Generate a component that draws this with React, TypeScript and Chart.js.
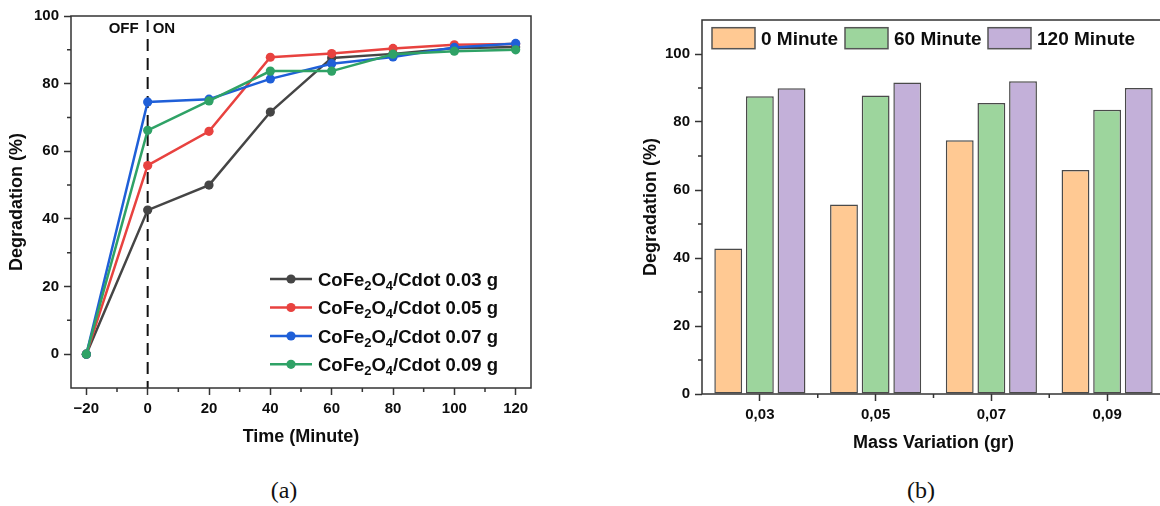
import React, { useEffect, useRef } from "react";
import { Chart, registerables } from "chart.js";

Chart.register(...registerables);

// ---------- Data: panel (a) ----------
const timeMinutes = [-20, 0, 20, 40, 60, 80, 100, 120];
const degradation003 = [0, 42.6, 50.0, 71.6, 87.6, 88.8, 90.5, 90.8];
const degradation005 = [0, 55.8, 65.9, 87.8, 88.9, 90.4, 91.5, 91.7];
const degradation007 = [0, 74.6, 75.4, 81.4, 85.9, 87.9, 90.7, 91.9];
const degradation009 = [0, 66.2, 74.9, 83.7, 83.7, 88.7, 89.6, 90.0];
const massLabels = ["0.03", "0.05", "0.07", "0.09"];
const lineColors = ["#454545", "#e8423f", "#1f5fd8", "#2fa266"];
const timeTicks = [-20, 0, 20, 40, 60, 80, 100, 120];
const timeMinorTicks = [-10, 10, 30, 50, 70, 90, 110];
const degTicksA = [0, 20, 40, 60, 80, 100];
const degMinorTicksA = [10, 30, 50, 70, 90];

// ---------- Data: panel (b) ----------
const massCategories = ["0,03", "0,05", "0,07", "0,09"];
const minute0 = [42.8, 55.7, 74.6, 65.9];
const minute60 = [87.6, 87.8, 85.6, 83.6];
const minute120 = [89.9, 91.6, 92.0, 90.0];
const barLabels = ["0 Minute", "60 Minute", "120 Minute"];
const barColors = ["#ffc993", "#9dd59d", "#c3b0d9"];
const degTicksB = [0, 20, 40, 60, 80, 100];
const degMinorTicksB = [10, 30, 50, 70, 90];

const FONT = '"Liberation Sans", Arial, Helvetica, sans-serif';
const AXIS_COLOR = "#333333";
const TEXT_COLOR = "#0d0d0d";

function fmtTick(v: number) {
  return v < 0 ? "\u2212" + Math.abs(v) : String(v);
}

function drawRich(ctx: CanvasRenderingContext2D, parts: { t: string; sub?: boolean }[], x: number, baseline: number, size: number) {
  let cx = x;
  for (const p of parts) {
    const s = p.sub ? Math.round(size * 0.68) : size;
    ctx.font = `bold ${s}px ${FONT}`;
    ctx.fillText(p.t, cx, p.sub ? baseline + size * 0.22 : baseline);
    cx += ctx.measureText(p.t).width;
  }
}

function drawMinor(ctx: CanvasRenderingContext2D, chart: any, xMinor: number[], yMinor: number[], len: number) {
  const { left, bottom } = chart.chartArea;
  const xs = chart.scales.x;
  const ys = chart.scales.y;
  ctx.save();
  ctx.strokeStyle = AXIS_COLOR;
  ctx.lineWidth = 1.5;
  ctx.beginPath();
  for (const v of xMinor) {
    const px = xs.getPixelForValue(v);
    ctx.moveTo(px, bottom);
    ctx.lineTo(px, bottom + len);
  }
  for (const v of yMinor) {
    const py = ys.getPixelForValue(v);
    ctx.moveTo(left, py);
    ctx.lineTo(left - len, py);
  }
  ctx.stroke();
  ctx.restore();
}

const lineDecor = {
  id: "lineDecor",
  beforeDatasetsDraw(chart: any) {
    const ctx = chart.ctx as CanvasRenderingContext2D;
    const { top, bottom } = chart.chartArea;
    const x0 = chart.scales.x.getPixelForValue(0);
    ctx.save();
    ctx.strokeStyle = "#111";
    ctx.lineWidth = 2;
    ctx.setLineDash([12, 7]);
    ctx.beginPath();
    ctx.moveTo(x0, top + 4);
    ctx.lineTo(x0, bottom);
    ctx.stroke();
    ctx.restore();
    // OFF / ON
    ctx.save();
    ctx.fillStyle = TEXT_COLOR;
    ctx.font = `bold 15px ${FONT}`;
    ctx.textBaseline = "middle";
    ctx.textAlign = "right";
    ctx.fillText("OFF", x0 - 9, top + 13);
    ctx.textAlign = "left";
    ctx.fillText("ON", x0 + 5, top + 13);
    ctx.restore();
  },
  afterDraw(chart: any) {
    const ctx = chart.ctx as CanvasRenderingContext2D;
    const { left, top, right, bottom } = chart.chartArea;
    ctx.save();
    ctx.strokeStyle = AXIS_COLOR;
    ctx.lineWidth = 1.5;
    ctx.strokeRect(left, top, right - left, bottom - top);
    ctx.restore();
    drawMinor(ctx, chart, timeMinorTicks, degMinorTicksA, 4);
    // legend
    const rowOffsets = [-109, -80.5, -52, -23.7];
    const lx = left + 199;
    ctx.save();
    chart.data.datasets.forEach((ds: any, i: number) => {
      const cy = bottom + rowOffsets[i];
      ctx.strokeStyle = ds.borderColor;
      ctx.lineWidth = 2.5;
      ctx.beginPath();
      ctx.moveTo(lx, cy);
      ctx.lineTo(lx + 42, cy);
      ctx.stroke();
      ctx.fillStyle = ds.borderColor;
      ctx.beginPath();
      ctx.arc(lx + 21, cy, 4.6, 0, Math.PI * 2);
      ctx.fill();
      ctx.fillStyle = TEXT_COLOR;
      ctx.textBaseline = "alphabetic";
      ctx.textAlign = "left";
      drawRich(
        ctx,
        [
          { t: "CoFe" },
          { t: "2", sub: true },
          { t: "O" },
          { t: "4", sub: true },
          { t: "/Cdot " + massLabels[i] + " g" },
        ],
        lx + 48,
        cy + 6.5,
        18.5
      );
    });
    ctx.restore();
  },
};

const barDecor = {
  id: "barDecor",
  afterDraw(chart: any) {
    const ctx = chart.ctx as CanvasRenderingContext2D;
    const { left, top, right, bottom } = chart.chartArea;
    ctx.save();
    ctx.strokeStyle = AXIS_COLOR;
    ctx.lineWidth = 1.5;
    ctx.strokeRect(left, top, right - left, bottom - top);
    ctx.restore();
    const xs = chart.scales.x;
    const bounds: number[] = [];
    for (let i = 0; i < massCategories.length - 1; i++) {
      bounds.push((xs.getPixelForValue(i) + xs.getPixelForValue(i + 1)) / 2);
    }
    ctx.save();
    ctx.strokeStyle = AXIS_COLOR;
    ctx.lineWidth = 1.5;
    ctx.beginPath();
    for (const px of bounds) {
      ctx.moveTo(px, bottom);
      ctx.lineTo(px, bottom + 4);
    }
    for (const v of degMinorTicksB) {
      const py = chart.scales.y.getPixelForValue(v);
      ctx.moveTo(left, py);
      ctx.lineTo(left - 4, py);
    }
    ctx.stroke();
    ctx.restore();
    // legend
    const boxX = [10, 143, 286];
    ctx.save();
    chart.data.datasets.forEach((ds: any, i: number) => {
      const bx = left + boxX[i];
      const by = top + 7.7;
      ctx.fillStyle = ds.backgroundColor;
      ctx.fillRect(bx, by, 43, 21);
      ctx.strokeStyle = "#555";
      ctx.lineWidth = 1.5;
      ctx.strokeRect(bx, by, 43, 21);
      ctx.fillStyle = TEXT_COLOR;
      ctx.font = `bold 19px ${FONT}`;
      ctx.textBaseline = "alphabetic";
      ctx.textAlign = "left";
      ctx.fillText(ds.label, bx + 49, by + 17.5);
    });
    ctx.restore();
  },
};

function LineChart() {
  const ref = useRef<HTMLCanvasElement>(null);
  useEffect(() => {
    if (!ref.current) return;
    const series = [degradation003, degradation005, degradation007, degradation009];
    const chart = new Chart(ref.current, {
      type: "line",
      data: {
        datasets: series.map((vals, i) => ({
          label: "CoFe2O4/Cdot " + massLabels[i] + " g",
          data: timeMinutes.map((t, j) => ({ x: t, y: vals[j] })),
          borderColor: lineColors[i],
          backgroundColor: lineColors[i],
          borderWidth: 2.5,
          pointRadius: 4.6,
          pointBorderWidth: 0,
          pointBackgroundColor: lineColors[i],
          tension: 0,
          order: 4 - i,
        })),
      },
      options: {
        responsive: false,
        animation: false,
        devicePixelRatio: 1,
        layout: { padding: { left: 0, top: 16, right: 29, bottom: 0 } },
        plugins: { legend: { display: false }, tooltip: { enabled: false } },
        scales: {
          x: {
            type: "linear",
            min: -25,
            max: 125,
            afterBuildTicks: (s: any) => {
              s.ticks = timeTicks.map((v) => ({ value: v }));
            },
            afterFit: (s: any) => {
              s.height = 72;
            },
            border: { display: false },
            grid: { drawOnChartArea: false, drawTicks: true, tickLength: 7, tickColor: AXIS_COLOR, tickWidth: 1.5 },
            ticks: {
              font: { family: FONT, size: 15, weight: "bold" },
              color: TEXT_COLOR,
              padding: 5,
              maxRotation: 0,
              autoSkip: false,
              callback: (v: any) => fmtTick(Number(v)),
            },
            title: {
              display: true,
              text: "Time (Minute)",
              font: { family: FONT, size: 18, weight: "bold" },
              color: TEXT_COLOR,
              padding: { top: 0, bottom: 12.5 },
            },
          },
          y: {
            type: "linear",
            min: -10,
            max: 100,
            afterBuildTicks: (s: any) => {
              s.ticks = degTicksA.map((v) => ({ value: v }));
            },
            afterFit: (s: any) => {
              s.width = 71;
            },
            border: { display: false },
            grid: { drawOnChartArea: false, drawTicks: true, tickLength: 7, tickColor: AXIS_COLOR, tickWidth: 1.5 },
            ticks: {
              font: { family: FONT, size: 15, weight: "bold" },
              color: TEXT_COLOR,
              padding: 5,
              autoSkip: false,
            },
            title: {
              display: true,
              text: "Degradation (%)",
              font: { family: FONT, size: 18, weight: "bold" },
              color: TEXT_COLOR,
              padding: { top: 6.7, bottom: 0 },
            },
          },
        },
      },
      plugins: [lineDecor],
    } as any);
    return () => chart.destroy();
  }, []);
  return <canvas ref={ref} width={560} height={460} style={{ position: "absolute", left: 0, top: 0 }} />;
}

function BarChart() {
  const ref = useRef<HTMLCanvasElement>(null);
  useEffect(() => {
    if (!ref.current) return;
    const series = [minute0, minute60, minute120];
    const chart = new Chart(ref.current, {
      type: "bar",
      data: {
        labels: massCategories,
        datasets: series.map((vals, i) => ({
          label: barLabels[i],
          data: vals,
          backgroundColor: barColors[i],
          borderColor: "#4a4a4a",
          borderWidth: 1.5,
          borderSkipped: false,
          categoryPercentage: 0.82,
          barPercentage: 0.88,
        })),
      },
      options: {
        responsive: false,
        animation: false,
        devicePixelRatio: 1,
        layout: { padding: { left: 0, top: 20, right: 15, bottom: 0 } },
        plugins: { legend: { display: false }, tooltip: { enabled: false } },
        scales: {
          x: {
            afterFit: (s: any) => {
              s.height = 66;
            },
            border: { display: false },
            grid: { offset: false, drawOnChartArea: false, drawTicks: true, tickLength: 7, tickColor: AXIS_COLOR, tickWidth: 1.5 },
            ticks: {
              font: { family: FONT, size: 15, weight: "bold" },
              color: TEXT_COLOR,
              padding: 5,
              maxRotation: 0,
              autoSkip: false,
            },
            title: {
              display: true,
              text: "Mass Variation (gr)",
              font: { family: FONT, size: 18, weight: "bold" },
              color: TEXT_COLOR,
              padding: { top: 0, bottom: 6.2 },
            },
          },
          y: {
            type: "linear",
            min: 0,
            max: 110,
            afterBuildTicks: (s: any) => {
              s.ticks = degTicksB.map((v) => ({ value: v }));
            },
            afterFit: (s: any) => {
              s.width = 62;
            },
            border: { display: false },
            grid: { drawOnChartArea: false, drawTicks: true, tickLength: 7, tickColor: AXIS_COLOR, tickWidth: 1.5 },
            ticks: {
              font: { family: FONT, size: 15, weight: "bold" },
              color: TEXT_COLOR,
              padding: 5,
              autoSkip: false,
            },
            title: {
              display: true,
              text: "Degradation (%)",
              font: { family: FONT, size: 18, weight: "bold" },
              color: TEXT_COLOR,
              padding: { top: 0, bottom: 0 },
            },
          },
        },
      },
      plugins: [barDecor],
    } as any);
    return () => chart.destroy();
  }, []);
  return <canvas ref={ref} width={540} height={460} style={{ position: "absolute", left: 640, top: 0 }} />;
}

export default function App() {
  const capStyle: React.CSSProperties = {
    position: "absolute",
    top: 475,
    width: 60,
    textAlign: "center",
    fontFamily: '"Liberation Serif", "Times New Roman", serif',
    fontSize: 24,
    color: "#111",
    lineHeight: "30px",
  };
  return (
    <div
      style={{
        position: "fixed",
        left: 0,
        top: 0,
        width: 1160,
        height: 506,
        overflow: "hidden",
        background: "#fff",
      }}
    >
      <LineChart />
      <BarChart />
      <div style={{ ...capStyle, left: 254 }}>(a)</div>
      <div style={{ ...capStyle, left: 891 }}>(b)</div>
    </div>
  );
}
